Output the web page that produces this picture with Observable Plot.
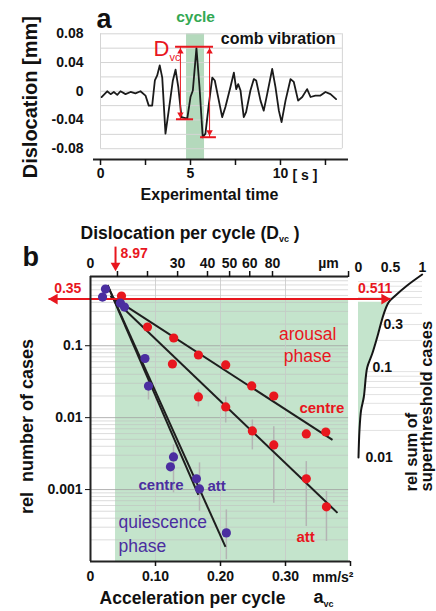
<!DOCTYPE html>
<html><head><meta charset="utf-8">
<script src="https://cdn.jsdelivr.net/npm/d3@7"></script>
<script src="https://cdn.jsdelivr.net/npm/@observablehq/plot@0.6"></script>
<style>
body{margin:0;background:#fff}
#fig{position:relative;width:436px;height:611px;overflow:hidden;background:#fff}
#fig svg{position:absolute;left:0;top:0}
</style>
</head><body><div id="fig"></div>
<script>
// ---------- panel a data ----------
const waveT = [0.06,0.37,0.56,0.74,0.93,1.11,1.39,1.67,1.94,2.22,2.5,2.68,2.87,3.02,3.15,3.29,3.43,3.61,3.79,4.02,4.17,4.32,4.5,4.82,5.0,5.13,5.33,5.5,5.68,5.83,6.02,6.21,6.35,6.76,6.94,7.22,7.41,7.54,7.65,7.78,7.96,8.09,8.33,8.52,8.65,8.89,9.07,9.26,9.54,9.72,9.91,10.06,10.28,10.56,10.74,10.98,11.21,11.48,11.67,11.94,12.22,12.5,12.78,13.09];
const waveV = [-0.008,0,-0.004,-0.001,-0.005,0,-0.004,-0.001,-0.003,0,-0.006,-0.02,-0.02,0.015,0.022,0.036,0.019,-0.059,-0.027,0.015,0.03,0.006,-0.036,-0.038,-0.008,0.001,0.06,0.006,-0.064,-0.059,-0.018,0.019,0.015,-0.036,-0.022,0.006,0.026,0.003,0.01,0.001,-0.036,-0.029,0.001,0.017,0.015,-0.013,-0.027,-0.004,0.031,0.006,-0.027,-0.043,-0.013,0.017,0.013,-0.013,-0.008,0.003,-0.008,-0.006,-0.006,-0.001,-0.004,-0.011];
const cycleStart = 4.78, cycleEnd = 5.78, recordEnd = 13.44;
const gridA = [-0.08,-0.06,-0.04,-0.02,0,0.02,0.04,0.06,0.08];
const yTicksA = [0.08,0.04,0,-0.04,-0.08];
const xTicksA = [0,2.5,5,7.5,10,12.5];
const xLabelsA = new Map([[0,"0"],[5,"5"],[10,"10"]]);
// D_vc markers: level bars and double arrows
const dvcBarV = [0.062,-0.039,-0.064];
const dvcBarT1 = [4.17,4.22,5.56];
const dvcBarT2 = [6.28,5.17,6.44];
const dvcArrT = [4.44,6.06];
const dvcArrTop = [0.062,0.062];
const dvcArrBot = [-0.039,-0.064];

// ---------- panel b data ----------
const redCentreAcc = [0.0477,0.0877,0.128,0.166,0.208,0.248,0.282,0.332,0.362];
const redCentreRel = [0.49,0.182,0.128,0.0743,0.054,0.0276,0.020,0.00593,0.00632];
const redAttAcc = [0.126,0.166,0.208,0.249,0.282,0.332,0.363];
const redAttRel = [0.0557,0.0194,0.0141,0.00653,0.00418,0.00141,0.000575];
const blueAcc = [0.023,0.0185,0.046,0.0523,0.0838,0.0892,0.1277,0.123,0.163,0.1677,0.209];
const blueRel = [0.613,0.474,0.392,0.345,0.0664,0.0275,0.00284,0.00207,0.00141,0.00102,0.00025];
const errAcc = [0.166,0.208,0.249,0.282,0.332,0.363,0.0892,0.1277,0.1677,0.209];
const errLow = [0.0141,0.00843,0.00356,0.000647,0.000306,0.00019,0.0176,0.0009,0.0005,0.000106];
const errHigh = [0.0243,0.0194,0.00929,0.0075,0.00245,0.000938,0.0371,0.00418,0.00235,0.000522];
const fitNames = ["arousal centre","arousal att","quiescence centre","quiescence att"];
const fitAcc0 = [0.0308,0.0308,0.0262,0.0262];
const fitRel0 = [0.49,0.49,0.697,0.697];
const fitAcc1 = [0.3723,0.38,0.2077,0.166];
const fitRel1 = [0.0049,0.000474,0.00016,0.000843];
const thresholdAcc = 0.0385;   // 8.97 µm
const thresholdRel = 0.4457;
const accTicks = [0.1,0.2,0.3,0.4];
const accLabels = new Map([[0,"0"],[0.1,"0.10"],[0.2,"0.20"],[0.3,"0.30"]]);
const relTicks = [0.1,0.01,0.001];
const relLabels = new Map([[0.1,"0.1"],[0.01,"0.01"],[0.001,"0.001"]]);
const dislocLabels = ["0","30","40","50","60","80","µm"];
const dislocLabelAcc = [0,0.134,0.18,0.214,0.245,0.28,0.366];
const dislocTickAcc = [0.0415,0.0877,0.134,0.18,0.214,0.245,0.28,0.397];

// ---------- right panel data ----------
const curveX = [0.995,0.76,0.578,0.473,0.395,0.292,0.214,0.136,0.083,0.04,0.015,0];
const curveY = [1.08,0.815,0.631,0.532,0.395,0.217,0.142,0.1,0.047,0.0333,0.02,0.01];
const sumTicks = [0,0.5,1];
const sumLabelText = ["0.3","0.1","0.01"];
const sumLabelY = [0.3,0.1,0.01];
const sumLabelX = [0.39,0.22,0.11];

// ---------- styling ----------
const W = 436, H = 611;
const FONT = "'Liberation Sans', Arial, Helvetica, sans-serif";
const RED = "#e8161e", BLUE = "#4b2ea0", GREEN_A = "#b4d9bc", GREEN_B = "#c4e4cc", CYCLE_GREEN = "#33a852";
const STYLE = `background:transparent;overflow:visible;font-family:${FONT};font-weight:bold;font-size:14px;color:#111;`;
const T = {textAnchor: "middle", lineAnchor: "middle"};

const decades = [1e-4,1e-3,1e-2,1e-1];
const minorB = decades.flatMap(d => [2,3,4,5,6,7,8,9].map(k => k*d)).filter(v => v < 0.917);
const minorR = [0.01,0.1].flatMap(d => [2,3,4,5,6,7,8,9].map(k => k*d));

const wave = waveT.map((t,i) => ({t, v: waveV[i]}));
const dvcBars = dvcBarV.map((v,i) => ({v, t1: dvcBarT1[i], t2: dvcBarT2[i]}));
const dvcArrows = dvcArrT.map((t,i) => ({t, top: dvcArrTop[i], bot: dvcArrBot[i]}));
const redC = redCentreAcc.map((a,i) => ({a, r: redCentreRel[i]}));
const redA = redAttAcc.map((a,i) => ({a, r: redAttRel[i]}));
const blue = blueAcc.map((a,i) => ({a, r: blueRel[i]}));
const errs = errAcc.map((a,i) => ({a, lo: errLow[i], hi: errHigh[i]}));
const fits = fitNames.map((n,i) => ({n, a0: fitAcc0[i], r0: fitRel0[i], a1: fitAcc1[i], r1: fitRel1[i]}));
const curve = curveX.map((x,i) => ({cx: x, cy: curveY[i]}));
const sumLabels = sumLabelText.map((t,i) => ({t, lx: sumLabelX[i], ly: sumLabelY[i]}));
const thr = [{a: thresholdAcc, r: thresholdRel}];

// ---------- panel a ----------
const plotA = Plot.plot({
  width: W, height: H, marginLeft: 93, marginRight: 88, marginTop: 33.3, marginBottom: 452,
  x: {domain: [-0.39, 13.78]},
  y: {domain: [-0.095, 0.08]},
  style: STYLE,
  marks: [
    Plot.rect([0], {x1: cycleStart, x2: cycleEnd, y1: -0.095, y2: 0.08, fill: GREEN_A}),
    Plot.ruleY(gridA, {x1: 0, x2: recordEnd, stroke: "#d4d4d4", strokeWidth: 1}),
    Plot.ruleX([0, recordEnd], {y1: -0.08, y2: 0.08, stroke: "#d4d4d4", strokeWidth: 1}),
    Plot.ruleY([-0.095], {x1: -0.39, x2: 13.78, stroke: "#222", strokeWidth: 2}),
    Plot.line(wave, {x: "t", y: "v", stroke: "#1b1b1b", strokeWidth: 1.8}),
    Plot.ruleY(dvcBars, {y: "v", x1: "t1", x2: "t2", stroke: RED, strokeWidth: 2}),
    Plot.link(dvcArrows, {x1: "t", x2: "t", y1: "top", y2: "bot", stroke: RED, strokeWidth: 1}),
    Plot.dot(dvcArrows, {x: "t", y: "top", symbol: "triangle", r: 2.4, fill: RED, stroke: null, dy: 5}),
    Plot.dot(dvcArrows, {x: "t", y: "bot", symbol: "triangle", r: 2.4, fill: RED, stroke: null, rotate: 180, dy: -5}),
    Plot.axisY({ticks: yTicksA, tickFormat: d => d === 0 ? "0" : d.toFixed(2), tickSize: 0, tickPadding: 10, fontSize: 14, label: null}),
    Plot.axisX({ticks: xTicksA, tickFormat: d => xLabelsA.get(d) ?? "", tickSize: 6, tickPadding: 3, strokeWidth: 1.5, fontSize: 14, label: null}),
    Plot.text(["[ s ]"], {x: 10, frameAnchor: "bottom", dy: 16, dx: 12, textAnchor: "start", lineAnchor: "middle", fontSize: 14}),
    Plot.text(["Experimental time"], {...T, frameAnchor: "bottom", dx: -11.5, dy: 35, fontSize: 16}),
    Plot.text(["Dislocation [mm]"], {...T, frameAnchor: "left", dx: -63, dy: 0.5, rotate: -90, fontSize: 20}),
    Plot.text(["a"], {frameAnchor: "top-left", dx: 3, dy: -14, textAnchor: "start", lineAnchor: "middle", fontSize: 27}),
    Plot.text(["cycle"], {...T, x: (cycleStart + cycleEnd) / 2, frameAnchor: "top", dy: -16.4, fill: CYCLE_GREEN, fontSize: 15.5}),
    Plot.text(["comb vibration"], {frameAnchor: "top-right", dx: -13, dy: 5, textAnchor: "end", lineAnchor: "middle", fontSize: 16}),
    Plot.text(["D_{vc}"], {frameAnchor: "top-left", dx: 60, dy: 14.7, textAnchor: "start", lineAnchor: "middle", fill: RED, fontSize: 22, fontWeight: "normal"})
  ]
});

// ---------- right panel ----------
const plotR = Plot.plot({
  width: W, height: H, marginLeft: 358, marginRight: 14, marginTop: 277, marginBottom: 154,
  x: {domain: [0, 1], axis: null},
  y: {type: "log", domain: [0.01, 1], axis: null},
  style: STYLE,
  marks: [
    Plot.ruleY(minorR, {x1: 0, x2: 1, stroke: "#e2e2e2", strokeWidth: 1}),
    Plot.areaX(curve.filter(d => d.cy <= 0.54), {y: "cy", x: "cx", fill: GREEN_B, curve: "catmull-rom"}),
    Plot.line(curve, {x: "cx", y: "cy", stroke: "#151515", strokeWidth: 2, curve: "catmull-rom"}),
    Plot.axisX({anchor: "top", ticks: sumTicks, tickFormat: d => String(d), tickSize: 0, tickPadding: 6, fontSize: 14, label: null}),
    Plot.text(sumLabels, {x: "lx", y: "ly", text: "t", textAnchor: "start", lineAnchor: "middle", fontSize: 14}),
    Plot.text(["rel sum of"], {frameAnchor: "bottom-left", dx: 53.5, dy: 34, rotate: -90, textAnchor: "start", lineAnchor: "middle", fontSize: 16.5}),
    Plot.text(["superthreshold cases"], {frameAnchor: "bottom-left", dx: 68, dy: 34, rotate: -90, textAnchor: "start", lineAnchor: "middle", fontSize: 16.5})
  ]
});

// ---------- panel b main ----------
const plotB = Plot.plot({
  width: W, height: H, marginLeft: 90, marginRight: 86, marginTop: 276, marginBottom: 50,
  x: {domain: [0, 0.4]},
  y: {type: "log", domain: [1e-4, 0.917]},
  style: STYLE,
  marks: [
    Plot.rect(thr, {x1: "a", x2: 0.397, y1: 1e-4, y2: "r", fill: GREEN_B}),
    Plot.ruleY(minorB, {x1: 0, x2: 0.397, stroke: "#bdbdbd", strokeOpacity: 0.55, strokeWidth: 1}),
    Plot.ruleY(relTicks, {x1: 0, x2: 0.397, stroke: "#a0a0a0", strokeOpacity: 0.8, strokeWidth: 1}),
    Plot.ruleX([0.1, 0.2, 0.3], {y1: 1e-4, y2: 0.917, stroke: "#c8c8c8", strokeOpacity: 0.8, strokeWidth: 1}),
    Plot.ruleX(errs, {x: "a", y1: "lo", y2: "hi", stroke: "#b4b4b4", strokeWidth: 1.5}),
    Plot.link(fits, {x1: "a0", y1: "r0", x2: "a1", y2: "r1", stroke: "#1e1e1e", strokeWidth: 2}),
    // threshold double arrow
    Plot.link(thr, {x1: -0.0646, x2: 0.4615, y1: "r", y2: "r", stroke: RED, strokeWidth: 2}),
    Plot.dot(thr, {x: -0.0646, y: "r", symbol: "triangle", r: 4, fill: RED, stroke: null, rotate: -90, dx: 6}),
    Plot.dot(thr, {x: 0.4615, y: "r", symbol: "triangle", r: 4, fill: RED, stroke: null, rotate: 90, dx: -6}),
    Plot.text(["0.35"], {...T, x: -0.035, y: thresholdRel, dy: -11, fill: RED, fontSize: 14}),
    Plot.text(["0.511"], {...T, x: 0.438, y: thresholdRel, dy: -11, fill: RED, fontSize: 14}),
    // 8.97 arrow
    Plot.ruleX(thr, {x: "a", y1: 2.35, y2: 1.25, stroke: RED, strokeWidth: 2}),
    Plot.dot(thr, {x: "a", y: 1.09, symbol: "triangle", r: 3.6, fill: RED, stroke: null, rotate: 180, dy: -5.5}),
    Plot.text(["8.97"], {x: thresholdAcc, frameAnchor: "top", dx: 5, dy: -23, textAnchor: "start", lineAnchor: "middle", fill: RED, fontSize: 14}),
    // points
    Plot.dot(redC, {x: "a", y: "r", r: 4.6, fill: RED, stroke: null}),
    Plot.dot(redA, {x: "a", y: "r", r: 4.6, fill: RED, stroke: null}),
    Plot.dot(blue, {x: "a", y: "r", r: 4.6, fill: BLUE, stroke: null}),
    // frame
    Plot.ruleX([0], {y1: 1e-4, y2: 0.917, stroke: "#222", strokeWidth: 2}),
    Plot.ruleY([1e-4], {x1: 0, x2: 0.4, stroke: "#222", strokeWidth: 2}),
    Plot.ruleY([0.917], {x1: 0, x2: 0.397, stroke: "#222", strokeWidth: 2}),
    // axes
    Plot.axisY({ticks: relTicks, tickFormat: d => relLabels.get(d), tickSize: 5, tickPadding: 3, fontSize: 14, label: null}),
    Plot.axisX({ticks: accTicks, tickFormat: () => "", tickSize: 5, strokeWidth: 1.5, label: null}),
    Plot.axisX({ticks: [0, 0.1, 0.2, 0.3], tickFormat: d => accLabels.get(d), tickSize: 0, tickPadding: 10, fontSize: 14, label: null}),
    Plot.axisX({anchor: "top", ticks: dislocTickAcc, tickFormat: () => "", tickSize: 6, strokeWidth: 1.5, label: null}),
    Plot.axisX({anchor: "top", ticks: dislocLabelAcc, tickFormat: d => dislocLabels[dislocLabelAcc.indexOf(d)], tickSize: 0, tickPadding: 9, fontSize: 14, label: null}),
    Plot.text(["mm/s²"], {frameAnchor: "bottom-right", dx: 3, dy: 16, textAnchor: "end", lineAnchor: "middle", fontSize: 14}),
    Plot.text(["Acceleration per cycle"], {...T, frameAnchor: "bottom", dx: -28, dy: 36.4, fontSize: 17.5}),
    Plot.text(["a_{vc}"], {frameAnchor: "bottom-left", dx: 223, dy: 36, textAnchor: "start", lineAnchor: "middle", fontSize: 18}),
    Plot.text(["Dislocation per cycle (D_{vc} )"], {frameAnchor: "top-left", dx: -10, dy: -43.6, textAnchor: "start", lineAnchor: "middle", fontSize: 17.5}),
    Plot.text(["rel  number of cases"], {...T, frameAnchor: "left", dx: -63, dy: 7.5, rotate: -90, fontSize: 18}),
    Plot.text(["b"], {frameAnchor: "top-left", dx: -68, dy: -19.3, textAnchor: "start", lineAnchor: "middle", fontSize: 27}),
    // phase labels
    Plot.text(["arousal\nphase"], {...T, x: 0.334, y: 0.107, fill: RED, fontSize: 17.5, fontWeight: "normal", lineHeight: 1.3}),
    Plot.text(["centre"], {...T, x: 0.356, y: 0.01365, fill: RED, fontSize: 15}),
    Plot.text(["att"], {...T, x: 0.331, y: 0.00022, fill: RED, fontSize: 15}),
    Plot.text(["centre"], {...T, x: 0.1085, y: 0.00116, fill: BLUE, fontSize: 15}),
    Plot.text(["att"], {...T, x: 0.194, y: 0.00113, fill: BLUE, fontSize: 15}),
    Plot.text(["quiescence\nphase"], {x: 0.043, y: 0.000255, textAnchor: "start", lineAnchor: "middle", fill: BLUE, fontSize: 17.5, fontWeight: "normal", lineHeight: 1.4})
  ]
});

const fig = document.getElementById("fig");
for (const p of [plotA, plotR, plotB]) fig.appendChild(p);

// subscript rendering for "_{...}"
function applySubscripts(svg) {
  const NS = "http://www.w3.org/2000/svg";
  for (const t of [...svg.querySelectorAll("text, tspan")]) {
    if (t.childElementCount) continue;
    const s = t.textContent;
    if (!s.includes("_{")) continue;
    const fs = parseFloat(getComputedStyle(t).fontSize) || 14;
    const shift = Math.round(fs * 0.22);
    t.textContent = "";
    const parts = s.split(/(_\{[^}]*\})/).filter(Boolean);
    let down = false;
    for (const p of parts) {
      const ts = document.createElementNS(NS, "tspan");
      if (p.startsWith("_{")) {
        ts.textContent = p.slice(2, -1);
        ts.setAttribute("font-size", Math.round(fs * 0.5));
        ts.setAttribute("dy", shift);
        down = true;
      } else {
        ts.textContent = p;
        if (down) { ts.setAttribute("dy", -shift); down = false; }
      }
      t.appendChild(ts);
    }
  }
}
for (const p of [plotA, plotR, plotB]) applySubscripts(p);
</script></body></html>
